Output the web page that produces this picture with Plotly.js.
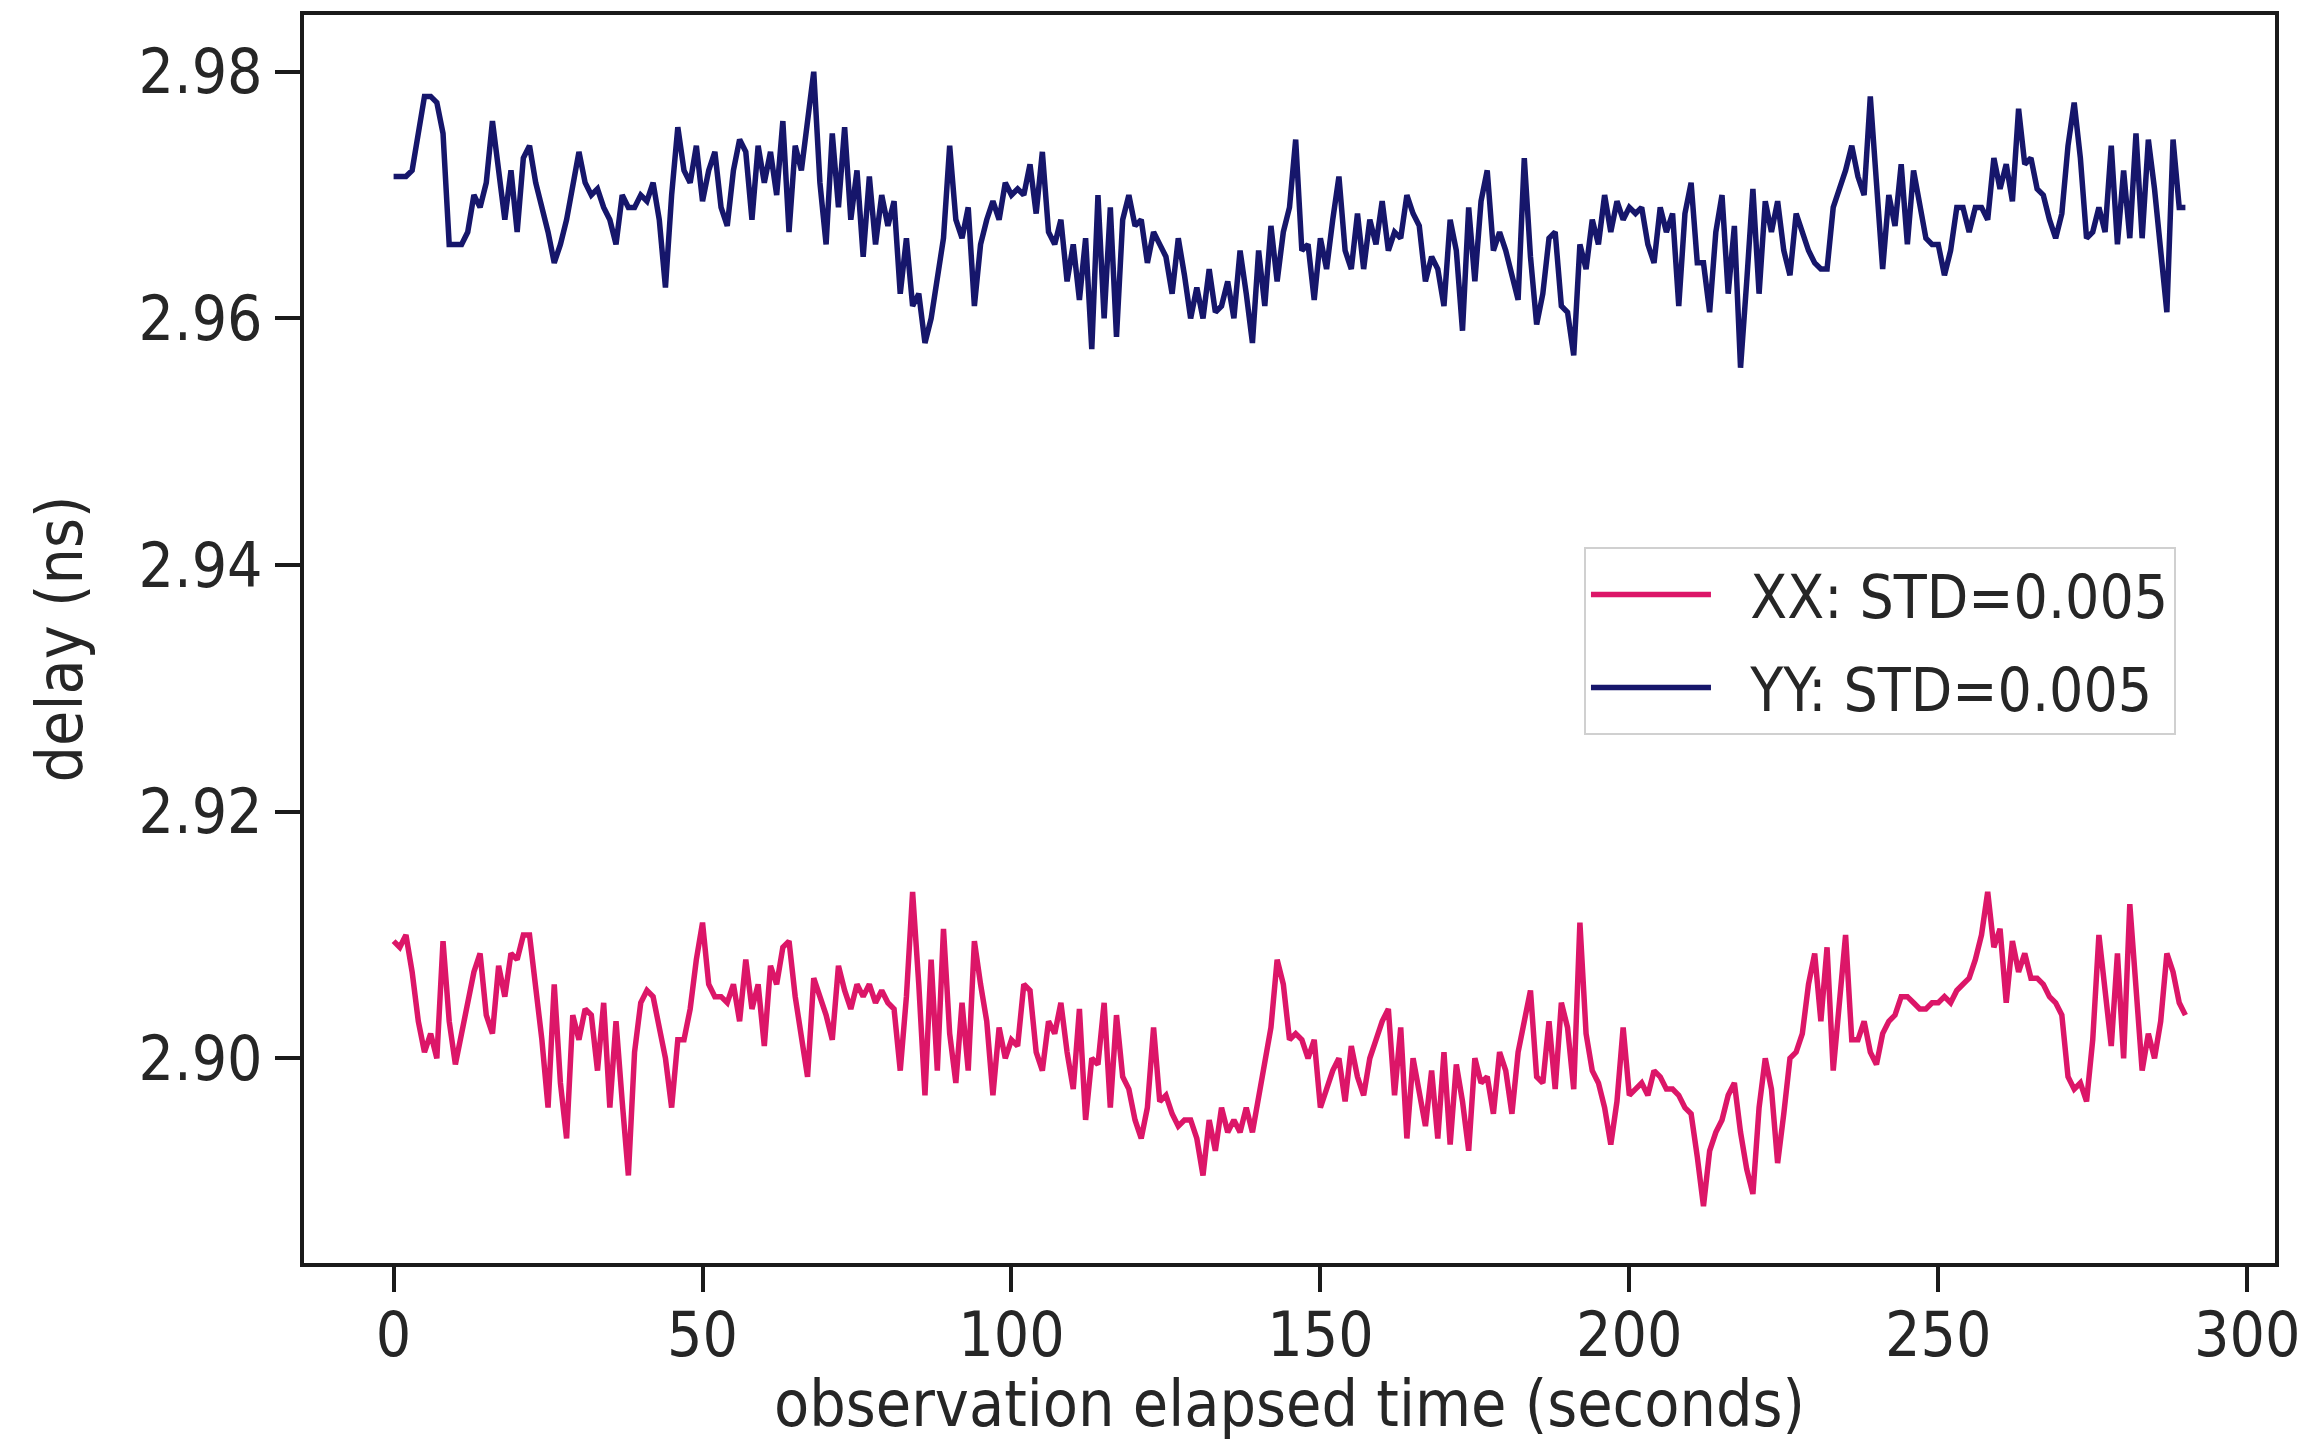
<!DOCTYPE html>
<html>
<head>
<meta charset="utf-8">
<script src="https://cdn.plot.ly/plotly-3.0.1.min.js"></script>
<style>html,body{margin:0;padding:0;background:#fff;}#chart{width:2316px;height:1441px;}</style>
</head>
<body>
<div id="chart"></div>
<script>
// elapsed time (seconds)
const timeSec = Array.from({length: 291}, (_, i) => i);

// YY delay (ns)
const yyDelay = [
2.9715,2.9715,2.9715,2.972,2.975,2.978,2.978,2.9775,2.975,2.966,
2.966,2.966,2.967,2.970,2.969,2.971,2.976,2.972,2.968,2.972,
2.967,2.973,2.974,2.971,2.969,2.967,2.9645,2.966,2.968,2.971,
2.9735,2.971,2.970,2.9705,2.969,2.968,2.966,2.970,2.969,2.969,
2.970,2.9695,2.971,2.968,2.9625,2.970,2.9755,2.972,2.971,2.974,
2.9695,2.972,2.9735,2.969,2.9675,2.972,2.9745,2.9735,2.968,2.974,
2.971,2.9735,2.970,2.976,2.967,2.974,2.972,2.976,2.980,2.971,
2.966,2.975,2.969,2.9755,2.968,2.972,2.965,2.9715,2.966,2.970,
2.9675,2.9695,2.962,2.9665,2.961,2.962,2.958,2.960,2.963,2.9665,
2.974,2.968,2.9665,2.969,2.961,2.966,2.968,2.9695,2.968,2.971,
2.970,2.9705,2.970,2.9725,2.9685,2.9735,2.967,2.966,2.968,2.963,
2.966,2.9615,2.9665,2.9575,2.970,2.960,2.969,2.9585,2.968,2.970,
2.9675,2.968,2.9645,2.967,2.966,2.965,2.962,2.9665,2.9635,2.960,
2.9625,2.960,2.964,2.9605,2.961,2.963,2.960,2.9655,2.962,2.958,
2.9655,2.961,2.9675,2.963,2.967,2.969,2.9745,2.9655,2.966,2.9615,
2.9665,2.964,2.968,2.9715,2.9655,2.964,2.9685,2.964,2.968,2.966,
2.9695,2.9655,2.967,2.9665,2.970,2.9685,2.9675,2.963,2.965,2.964,
2.961,2.968,2.9655,2.959,2.969,2.963,2.9695,2.972,2.9655,2.967,
2.9655,2.9635,2.9615,2.973,2.965,2.9595,2.962,2.9665,2.967,2.961,
2.9605,2.957,2.966,2.964,2.968,2.966,2.970,2.967,2.9695,2.968,
2.969,2.9685,2.969,2.966,2.9645,2.969,2.967,2.9685,2.961,2.9685,
2.971,2.9645,2.9645,2.9605,2.967,2.970,2.962,2.9675,2.956,2.963,
2.9705,2.962,2.9695,2.967,2.9695,2.9655,2.9635,2.9685,2.967,2.9655,
2.9645,2.964,2.964,2.969,2.9705,2.972,2.974,2.9715,2.970,2.978,
2.971,2.964,2.970,2.9675,2.9725,2.966,2.972,2.969,2.9665,2.966,
2.966,2.9635,2.9655,2.969,2.969,2.967,2.969,2.969,2.968,2.973,
2.9705,2.9725,2.9695,2.977,2.9725,2.973,2.9705,2.970,2.968,2.9665,
2.9685,2.974,2.9775,2.973,2.9665,2.967,2.969,2.967,2.974,2.966,
2.972,2.9665,2.975,2.9665,2.9745,2.9705,2.966,2.9605,2.9745,2.969,
2.969
];

// XX delay (ns)
const xxDelay = [
2.9095,2.909,2.910,2.907,2.903,2.9005,2.902,2.900,2.9095,2.903,
2.8995,2.902,2.9045,2.907,2.9085,2.9035,2.902,2.9075,2.905,2.9085,
2.908,2.910,2.910,2.906,2.9015,2.896,2.906,2.898,2.8935,2.9035,
2.9015,2.904,2.9035,2.899,2.9045,2.896,2.903,2.8965,2.8905,2.9005,
2.9045,2.9055,2.905,2.9025,2.900,2.896,2.9015,2.9015,2.904,2.908,
2.911,2.906,2.905,2.905,2.9045,2.906,2.903,2.908,2.904,2.906,
2.901,2.9075,2.906,2.909,2.9095,2.905,2.902,2.8985,2.9065,2.905,
2.9035,2.9015,2.9075,2.9055,2.904,2.906,2.905,2.906,2.9045,2.9055,
2.9045,2.904,2.899,2.905,2.9135,2.906,2.897,2.908,2.899,2.9105,
2.902,2.898,2.9045,2.899,2.9095,2.906,2.903,2.897,2.9025,2.900,
2.9015,2.901,2.906,2.9055,2.9005,2.899,2.903,2.902,2.9045,2.9005,
2.8975,2.904,2.895,2.900,2.8995,2.9045,2.896,2.9035,2.8985,2.8975,
2.895,2.8935,2.896,2.9025,2.8965,2.897,2.8955,2.8945,2.895,2.895,
2.8935,2.8905,2.895,2.8925,2.896,2.894,2.895,2.894,2.896,2.894,
2.897,2.900,2.9025,2.908,2.906,2.9015,2.902,2.9015,2.900,2.9015,
2.896,2.8975,2.899,2.900,2.8965,2.901,2.8985,2.897,2.900,2.9015,
2.903,2.904,2.897,2.9025,2.8935,2.900,2.8975,2.8945,2.899,2.8935,
2.9005,2.893,2.8995,2.8965,2.8925,2.900,2.898,2.8985,2.8955,2.9005,
2.899,2.8955,2.9005,2.903,2.9055,2.8985,2.898,2.903,2.8975,2.9045,
2.9025,2.8975,2.911,2.902,2.899,2.898,2.896,2.893,2.8965,2.9025,
2.897,2.8975,2.898,2.897,2.899,2.8985,2.8975,2.8975,2.897,2.896,
2.8955,2.892,2.888,2.8925,2.894,2.895,2.897,2.898,2.894,2.891,
2.889,2.896,2.900,2.8975,2.8915,2.8955,2.900,2.9005,2.902,2.906,
2.9085,2.903,2.909,2.899,2.9045,2.910,2.9015,2.9015,2.903,2.9005,
2.8995,2.902,2.903,2.9035,2.905,2.905,2.9045,2.904,2.904,2.9045,
2.9045,2.905,2.9045,2.9055,2.906,2.9065,2.908,2.910,2.9135,2.909,
2.9105,2.9045,2.9095,2.907,2.9085,2.9065,2.9065,2.906,2.905,2.9045,
2.9035,2.8985,2.8975,2.898,2.8965,2.9015,2.910,2.905,2.901,2.9085,
2.900,2.9125,2.905,2.899,2.902,2.900,2.903,2.9085,2.907,2.9045,
2.9035
];

const seriesNames = ['XX: STD=0.005', 'YY: STD=0.005'];
const xTicks = [0, 50, 100, 150, 200, 250, 300];
const yTicks = [2.90, 2.92, 2.94, 2.96, 2.98];

const fam = '"DejaVu Sans Condensed", "Liberation Sans Narrow", "DejaVu Sans", sans-serif';
const tickFont = {family: fam, size: 62, color: '#262626'};
const titleFont = {family: fam, size: 64, color: '#262626'};
const gap = '\u00a0\u00a0';

const traces = [
  {x: timeSec, y: xxDelay, name: gap + seriesNames[0], legendgroup: 'xx', type: 'scatter', mode: 'lines',
   line: {color: '#dc1668', width: 5.5}},
  {x: timeSec, y: yyDelay, name: gap + seriesNames[1], legendgroup: 'yy', type: 'scatter', mode: 'lines',
   line: {color: '#16166b', width: 5.5}}
];

const layout = {
  width: 2316, height: 1441,
  margin: {l: 304, r: 41, t: 15, b: 178, pad: 0},
  paper_bgcolor: '#ffffff', plot_bgcolor: '#ffffff',
  font: tickFont,
  showlegend: true,
  legend: {
    x: 0.6494, y: 0.5737, xanchor: 'left', yanchor: 'top',
    bgcolor: '#ffffff', bordercolor: '#d0d0d0', borderwidth: 2,
    font: {family: fam, size: 60, color: '#262626'},
    itemwidth: 120, tracegroupgap: 12
  },
  xaxis: {
    range: [-14.5, 304.5], tickvals: xTicks, ticktext: xTicks.map(String),
    showgrid: false, zeroline: false,
    showline: true, mirror: true, linecolor: '#1a1a1a', linewidth: 4,
    ticks: 'outside', ticklen: 25, tickwidth: 4, tickcolor: '#1a1a1a',
    tickfont: tickFont, ticklabelstandoff: -10,
    title: {text: 'observation elapsed time (seconds)', font: titleFont, standoff: 10},
    automargin: false
  },
  yaxis: {
    range: [2.8834, 2.9846], tickvals: yTicks, ticktext: yTicks.map(v => v.toFixed(2)),
    showgrid: false, zeroline: false,
    showline: true, mirror: true, linecolor: '#1a1a1a', linewidth: 4,
    ticks: 'outside', ticklen: 25, tickwidth: 4, tickcolor: '#1a1a1a',
    tickfont: tickFont,
    title: {text: 'delay (ns)', font: titleFont, standoff: 36},
    automargin: false
  }
};

Plotly.newPlot('chart', traces, layout, {displayModeBar: false, staticPlot: true});
</script>
</body>
</html>
